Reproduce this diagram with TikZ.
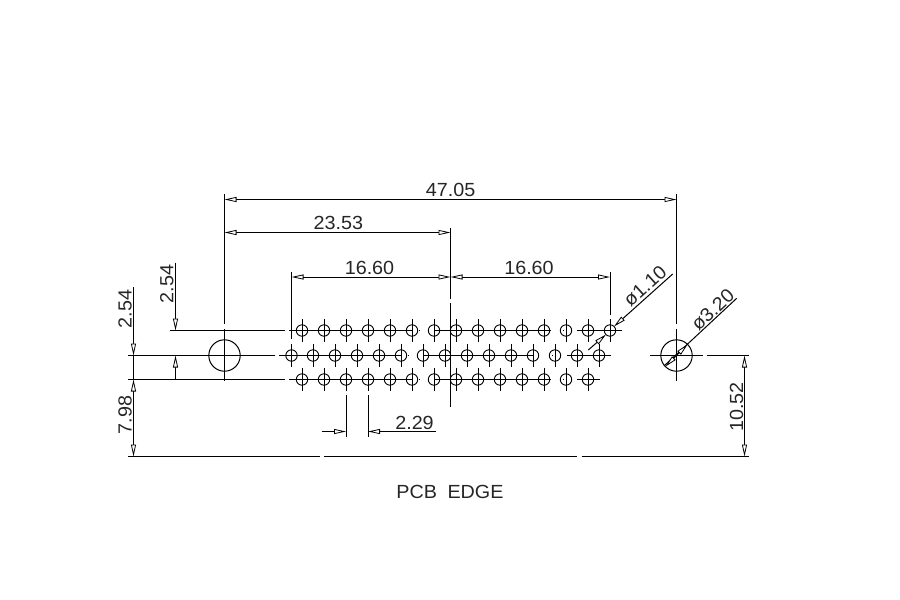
\documentclass[tikz,border=0pt]{standalone}
\usepackage{fontspec}
\setmainfont[FakeStretch=1.04]{Liberation Sans}
\usetikzlibrary{arrows.meta}
\usetikzlibrary{positioning}

\begin{document}
\begin{tikzpicture} [
    x=1pt, y=-1pt, line width=1pt,
    hole/.style={circle, draw=black, line width=0.9pt, inner sep=0pt, minimum size=11.4pt},
    mount/.style={circle, draw=black, line width=1pt, inner sep=0pt, minimum size=31.4pt},
    stem/.style={line width=1pt},
    dim/.style={font=\fontsize{19}{21}\selectfont, inner sep=0pt, text=black!85},
    >={Triangle[fill=white,length=12pt,width=5pt,line width=0.8pt]}
    ]
    \useasboundingbox (0,0) rectangle (900,600);

    %Holes
    \node[mount] (lh) at (224.5,355.5) {};
    \node[mount] (rh) at (676.5,355.5) {};
    \foreach \i in {0,...,14} {
        \pgfmathsetmacro{\x}{302+22*\i}
        \node[hole] (t\i) at (\x,330.5) {};
        \draw[stem] ([yshift=11.7pt]t\i.center) -- ([yshift=-11.7pt]t\i.center);
    }
    \node[hole] (m0) at (291.5,355.5) {};
    \draw[stem] ([yshift=11.7pt]m0.center) -- ([yshift=-11.7pt]m0.center);
    \foreach \i in {1,...,14} {
        \pgfmathsetmacro{\x}{291+22*\i}
        \node[hole] (m\i) at (\x,355.5) {};
        \draw[stem] ([yshift=11.7pt]m\i.center) -- ([yshift=-11.7pt]m\i.center);
    }
    \foreach \i in {0,...,13} {
        \pgfmathsetmacro{\x}{302+22*\i}
        \node[hole] (b\i) at (\x,379.5) {};
        \draw[stem] ([yshift=11.7pt]b\i.center) -- ([yshift=-11.7pt]b\i.center);
    }

    %Centre lines
    \draw (170,330.5) -- (285,330.5);
    \draw (289,330.5) -- (t5.center);
    \draw (419,330.5) -- (420,330.5);
    \draw (t6.center) -- (551,330.5);
    \draw (563,330.5) -- (564,330.5);
    \draw (577,330.5) -- (622,330.5);
    \draw (128,355.5) -- (275,355.5);
    \draw (279,355.5) -- (m5.center);
    \draw (408,355.5) -- (409,355.5);
    \draw (m6.center) -- (m11.center);
    \draw (552,355.5) -- (553,355.5);
    \draw (567,355.5) -- (611,355.5);
    \draw (128,379.5) -- (285,379.5);
    \draw (289,379.5) -- (b5.center);
    \draw (419,379.5) -- (420,379.5);
    \draw (b6.center) -- (551,379.5);
    \draw (563,379.5) -- (564,379.5);
    \draw (577,379.5) -- (600,379.5);
    \draw (650,355.5) -- (702.5,355.5);
    \draw (706.5,355.5) -- (749,355.5);

    %Extension lines
    \draw (224.5,194) -- (224.5,324);
    \draw (224.5,329) -- (224.5,381);
    \draw (676.5,194) -- (676.5,324);
    \draw (676.5,329) -- (676.5,381);
    \draw (450.5,228) -- (450.5,298.5);
    \draw (450.5,303) -- (450.5,407);
    \draw (291.5,272) -- (291.5,339);
    \draw (610,272) -- (610,315);
    \draw[stem] (346,395) -- (346,436.5);
    \draw[stem] (368,395) -- (368,436.5);
    \draw (128,456.5) -- (320,456.5);
    \draw (323.5,456.5) -- (577,456.5);
    \draw (581.5,456.5) -- (749,456.5);

    %Dimension lines
    \draw[<->] (224.5,199.5) -- (676.5,199.5);
    \draw[<->] (224.5,232.5) -- (450.5,232.5);
    \draw[<-] (291.5,277) -- (369,277);
    \draw[->] (369,277) -- (450.5,277);
    \draw[<-] (450.5,277) -- (530,277);
    \draw[->] (530,277) -- (610,277);
    \draw[->] (175.5,262.5) -- (175.5,330.5);
    \draw[<-] (175.5,355.5) -- (175.5,379.5);
    \draw[->] (133.5,287) -- (133.5,355.5);
    \draw (133.5,355.5) -- (133.5,379.5);
    \draw[<->] (133.5,379.5) -- (133.5,456.5);
    \draw[<->] (744.5,355.5) -- (744.5,456.5);
    \draw[->] (321.5,431.5) -- (346,431.5);
    \draw[<-] (368,431.5) -- (435.5,431.5);
    \draw[<-] (614,326.5) -- (672.7,274);
    \draw[<-] (606,334.5) -- (588.3,350);
    \draw (664,366) -- (736.7,298.3);
    \draw[->] (676.5,355.5) -- (687.6,344.4);
    \draw[->] (676.5,355.5) -- (665.4,366.6);

    %Labels
    \node[dim, anchor=base] (overall)  at (450.7,196.7) {47.05};
    \node[dim, anchor=base] (half)     at (338.3,229.7) {23.53};
    \node[dim, anchor=base] (spanl)    at (369.5,274) {16.60};
    \node[dim, anchor=base] (spanr)    at (529,274) {16.60};
    \node[dim, anchor=base] (pitch)    at (414.5,429) {2.29};
    \node[dim, anchor=base, rotate=90] (rowa) at (131.5,309) {2.54};
    \node[dim, anchor=base, rotate=90] (rowb) at (173.3,284) {2.54};
    \node[dim, anchor=base, rotate=90] (edgea) at (131.5,415) {7.98};
    \node[dim, anchor=base, rotate=90] (edgeb) at (743,407) {10.52};
    \node[dim, rotate=42] (pindia) at (645,286) {ø1.10};
    \node[dim, rotate=43] (mountdia) at (712.7,310) {ø3.20};
    \node[dim, anchor=base] (pcb) at (450,498) {PCB\hspace{5pt} EDGE};

\end{tikzpicture}
\end{document}
